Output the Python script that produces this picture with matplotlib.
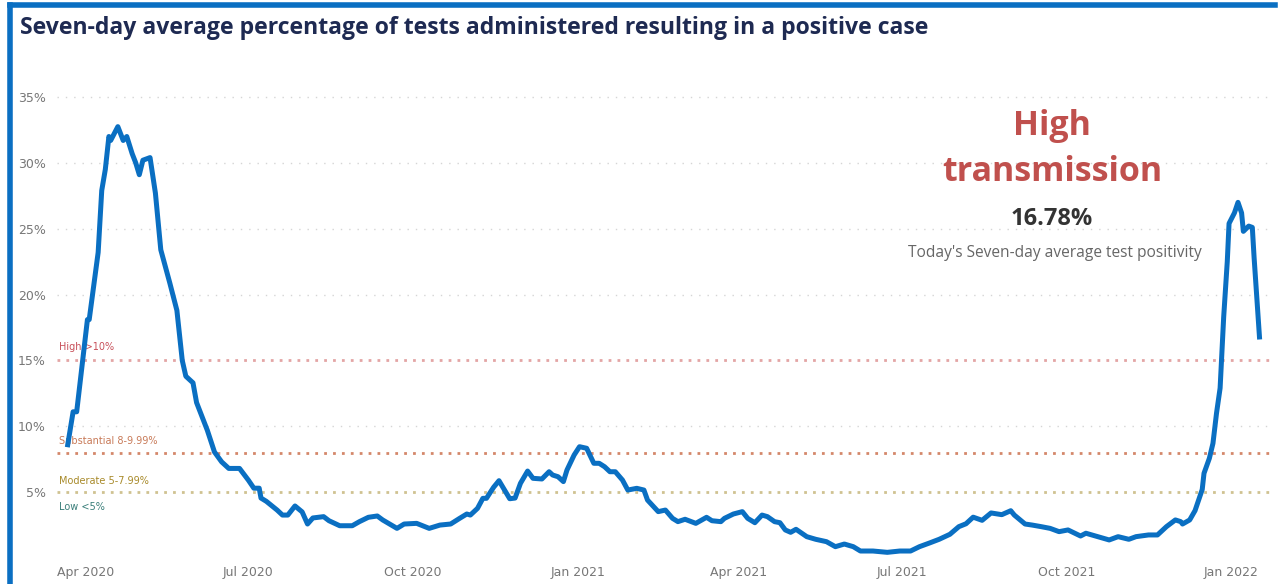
import matplotlib
matplotlib.use("Agg")
import matplotlib.pyplot as plt
import matplotlib.dates as mdates
from matplotlib.lines import Line2D
import pandas as pd

# seven-day average test positivity (%)
dates = ["2020-03-22", "2020-03-25", "2020-03-27", "2020-04-02", "2020-04-03", "2020-04-08",
         "2020-04-10", "2020-04-12", "2020-04-14", "2020-04-15", "2020-04-19", "2020-04-22",
         "2020-04-24", "2020-04-27", "2020-04-29", "2020-05-01", "2020-05-03", "2020-05-07",
         "2020-05-10", "2020-05-13", "2020-05-15", "2020-05-18", "2020-05-22", "2020-05-25",
         "2020-05-27", "2020-05-31", "2020-06-02", "2020-06-08", "2020-06-12", "2020-06-16",
         "2020-06-20", "2020-06-26", "2020-07-01", "2020-07-04", "2020-07-07", "2020-07-08",
         "2020-07-11", "2020-07-17", "2020-07-20", "2020-07-23", "2020-07-27", "2020-07-31",
         "2020-08-03", "2020-08-06", "2020-08-12", "2020-08-15", "2020-08-21", "2020-08-28",
         "2020-09-01", "2020-09-06", "2020-09-11", "2020-09-14", "2020-09-22", "2020-09-26",
         "2020-10-03", "2020-10-10", "2020-10-16", "2020-10-22", "2020-10-27", "2020-10-31",
         "2020-11-02", "2020-11-06", "2020-11-09", "2020-11-11", "2020-11-15", "2020-11-18",
         "2020-11-20", "2020-11-24", "2020-11-27", "2020-11-30", "2020-12-04", "2020-12-07",
         "2020-12-12", "2020-12-16", "2020-12-18", "2020-12-21", "2020-12-24", "2020-12-26",
         "2020-12-30", "2021-01-02", "2021-01-06", "2021-01-10", "2021-01-13", "2021-01-16",
         "2021-01-19", "2021-01-22", "2021-01-26", "2021-01-29", "2021-02-03", "2021-02-07",
         "2021-02-09", "2021-02-15", "2021-02-19", "2021-02-23", "2021-02-26", "2021-03-02",
         "2021-03-08", "2021-03-14", "2021-03-17", "2021-03-22", "2021-03-24", "2021-03-29",
         "2021-04-03", "2021-04-06", "2021-04-10", "2021-04-14", "2021-04-17", "2021-04-21",
         "2021-04-24", "2021-04-27", "2021-04-30", "2021-05-03", "2021-05-09", "2021-05-14",
         "2021-05-20", "2021-05-25", "2021-05-30", "2021-06-04", "2021-06-08", "2021-06-15",
         "2021-06-23", "2021-06-30", "2021-07-06", "2021-07-11", "2021-07-17", "2021-07-22",
         "2021-07-28", "2021-08-02", "2021-08-06", "2021-08-10", "2021-08-15", "2021-08-20",
         "2021-08-26", "2021-08-31", "2021-09-02", "2021-09-08", "2021-09-12", "2021-09-17",
         "2021-09-22", "2021-09-27", "2021-10-02", "2021-10-09", "2021-10-12", "2021-10-20",
         "2021-10-25", "2021-10-30", "2021-11-05", "2021-11-09", "2021-11-16", "2021-11-21",
         "2021-11-26", "2021-12-01", "2021-12-04", "2021-12-05", "2021-12-09", "2021-12-12",
         "2021-12-16", "2021-12-17", "2021-12-20", "2021-12-22", "2021-12-24", "2021-12-26",
         "2021-12-28", "2021-12-30", "2021-12-31", "2022-01-03", "2022-01-05", "2022-01-07",
         "2022-01-08", "2022-01-11", "2022-01-13", "2022-01-14", "2022-01-17"]
positivity = [8.6, 11.1, 11.1, 18.1, 18.1, 23.2,
              27.9, 29.5, 32.0, 31.7, 32.75, 31.7,
              32.0, 30.7, 30.0, 29.1, 30.2, 30.4,
              27.7, 23.4, 22.4, 20.9, 18.8, 15.0,
              13.8, 13.3, 11.8, 9.7, 8.05, 7.3,
              6.8, 6.8, 5.9, 5.3, 5.3, 4.55,
              4.3, 3.64, 3.26, 3.26, 3.95, 3.5,
              2.58, 3.04, 3.14, 2.83, 2.45, 2.45,
              2.76, 3.09, 3.19, 2.89, 2.25, 2.58,
              2.63, 2.25, 2.5, 2.58, 3.01, 3.34,
              3.26, 3.77, 4.53, 4.53, 5.37, 5.87,
              5.41, 4.5, 4.55, 5.67, 6.6, 6.05,
              6.0, 6.55, 6.3, 6.17, 5.8, 6.68,
              7.82, 8.45, 8.33, 7.19, 7.19, 6.93,
              6.55, 6.55, 5.92, 5.16, 5.29, 5.16,
              4.4, 3.52, 3.64, 3.01, 2.76, 2.94,
              2.63, 3.09, 2.83, 2.76, 3.01, 3.34,
              3.52, 3.01, 2.68, 3.26, 3.14, 2.76,
              2.68, 2.13, 1.95, 2.18, 1.62, 1.42,
              1.24, 0.86, 1.06, 0.86, 0.53, 0.53,
              0.43, 0.53, 0.53, 0.86, 1.16, 1.42,
              1.8, 2.38, 2.6, 3.1, 2.86, 3.42,
              3.29, 3.59, 3.26, 2.58, 2.5, 2.38,
              2.25, 2.0, 2.13, 1.67, 1.88, 1.57,
              1.37, 1.62, 1.42, 1.62, 1.75, 1.75,
              2.38, 2.89, 2.76, 2.58, 2.89, 3.6,
              5.2, 6.43, 7.57, 8.7, 11.0, 12.9,
              18.3, 22.5, 25.4, 26.2, 27.0, 26.2,
              24.8, 25.2, 25.1, 22.8, 16.78]

thresholds = [15, 8, 5]
threshold_colors = ["#E3A5A5", "#D4876A", "#CFC291"]
band_labels = ["High >10%", "Substantial 8-9.99%", "Moderate 5-7.99%", "Low <5%"]
band_label_y = [16.0, 8.85, 5.85, 3.9]
band_label_colors = ["#C8505A", "#C87A58", "#A88A2A", "#3A7F7A"]
y_ticks = [5, 10, 15, 20, 25, 30, 35]

current = "16.78%"

blue = "#0A6FC2"
x = pd.to_datetime(dates)

fig = plt.figure(figsize=(12.8, 5.84), dpi=100)
ax = fig.add_axes([57 / 1280, 1 - 558 / 584, (1272 - 57) / 1280, (558 - 70) / 584])

for t in y_ticks:
    if t not in thresholds:
        ax.axhline(t, color="#D5D5D5", lw=1, ls=(0, (1, 5)), zorder=1)
for t, c in zip(thresholds, threshold_colors):
    ax.axhline(t, color=c, lw=2, ls=(0, (1, 2.2)), zorder=2)

x0 = pd.Timestamp("2020-03-17")
for lab, yy, c in zip(band_labels, band_label_y, band_label_colors):
    ax.text(x0, yy, lab, color=c, fontsize=7, va="center", ha="left", zorder=3)

ax.plot(x, positivity, color=blue, lw=3.6, solid_joinstyle="round", zorder=5)

ax.set_xlim(pd.Timestamp("2020-03-16"), pd.Timestamp("2022-01-24"))
ax.set_ylim(0, 37.05)
ax.set_yticks(y_ticks)
ax.set_yticklabels([f"{t}%" for t in y_ticks])
ax.xaxis.set_major_locator(mdates.MonthLocator(bymonth=[1, 4, 7, 10]))
ax.xaxis.set_major_formatter(mdates.DateFormatter("%b %Y"))
ax.tick_params(axis="both", length=0, labelsize=9, labelcolor="#777777")
ax.tick_params(axis="y", pad=8)
ax.tick_params(axis="x", pad=6)
for s in ax.spines.values():
    s.set_visible(False)

fig.text(20 / 1280, 1 - 28 / 584, "Seven-day average percentage of tests administered resulting in a positive case",
         fontsize=16.6, fontweight="bold", color="#1E2A52", family="Open Sans", va="center", ha="left")

cx = 1052 / 1280
fig.text(cx, 1 - 126 / 584, "High", fontsize=24.5, fontweight="bold", color="#C0504D",
         family="Open Sans", ha="center", va="center")
fig.text(cx, 1 - 172 / 584, "transmission", fontsize=24.5, fontweight="bold", color="#C0504D",
         family="Open Sans", ha="center", va="center")
fig.text(cx, 1 - 219 / 584, current, fontsize=17, fontweight="bold", color="#333333",
         family="Open Sans", ha="center", va="center")
fig.text(1055 / 1280, 1 - 253 / 584, "Today's Seven-day average test positivity", fontsize=11.2,
         color="#666666", family="Open Sans", ha="center", va="center")

# blue frame on top and left edges
fig.add_artist(Line2D([10 / 1280, 1275 / 1280], [1 - 5 / 584, 1 - 5 / 584], color=blue, lw=4))
fig.add_artist(Line2D([10 / 1280, 10 / 1280], [1 - 5 / 584, 0], color=blue, lw=4))

fig.savefig("out.png", dpi=100)
